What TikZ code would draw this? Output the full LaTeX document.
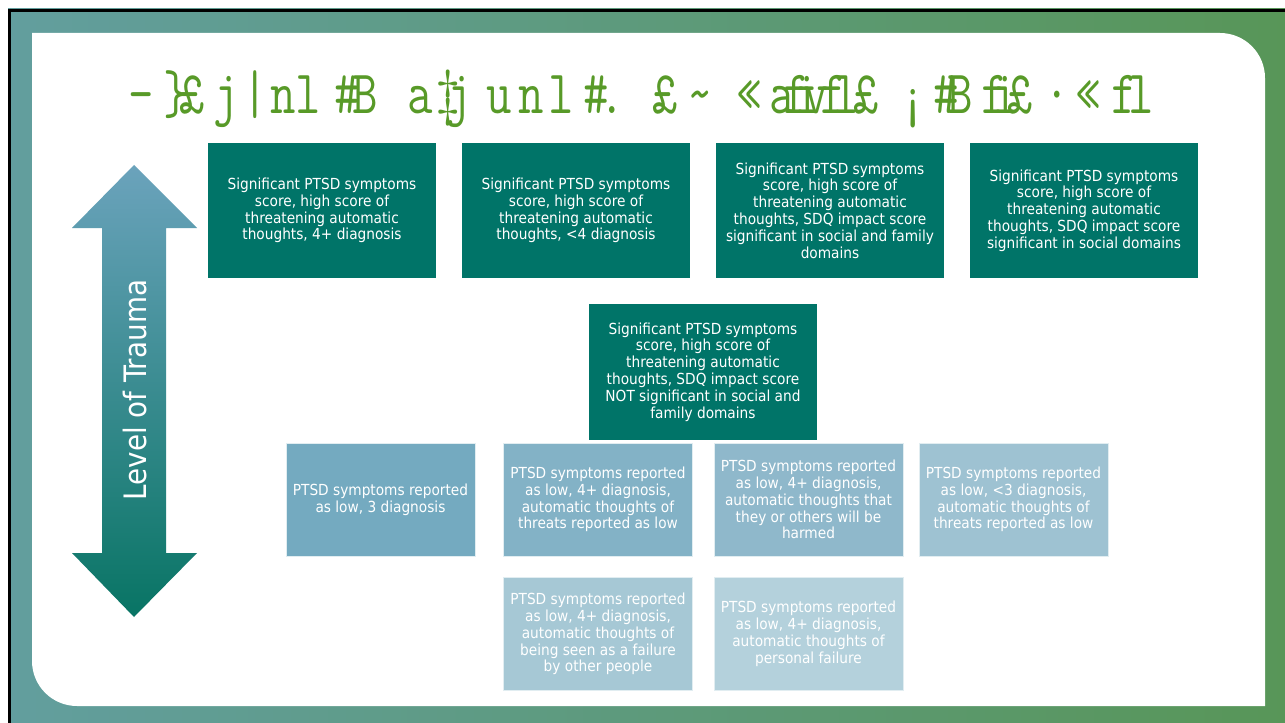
\documentclass[tikz,border=0pt]{standalone}
\usepackage{fontspec}
\newfontfamily\boxfont{DejaVu Sans Condensed}
\newfontfamily\titlefont{Latin Modern Mono}[FakeStretch=0.8]
\definecolor{frameteal}{RGB}{98,158,158}
\definecolor{framegreen}{RGB}{88,150,88}
\definecolor{titlegreen}{RGB}{88,154,40}
\definecolor{deepteal}{RGB}{0,116,104}
\definecolor{blueA}{RGB}{116,170,192}
\definecolor{blueB}{RGB}{131,178,198}
\definecolor{blueC}{RGB}{143,184,203}
\definecolor{blueD}{RGB}{158,194,210}
\definecolor{blueE}{RGB}{166,200,213}
\definecolor{blueF}{RGB}{180,209,220}
\definecolor{arrowtop}{RGB}{107,163,188}
\definecolor{arrowbottom}{RGB}{8,116,100}
\begin{document}
\begin{tikzpicture}[x=1bp,y=-1bp,
  glyph/.style={anchor=base,inner sep=0pt,text=titlegreen,
    font=\titlefont\fontsize{62}{62}\selectfont},
  card/.style={rectangle,inner sep=0pt,text=white,align=center,
    font=\boxfont\fontsize{15.3}{16.9}\selectfont},
  bigcard/.style={card,fill=deepteal,minimum width=228bp,minimum height=135bp},
  smallcard/.style={card,minimum width=189bp,minimum height=113bp,
    draw=white!60!blueF,line width=0.6bp}]
\useasboundingbox (0,0) rectangle (1285,723);
\fill[white] (0,0) rectangle (1285,723);

% slide frame with gradient border
\shade[left color=frameteal,right color=framegreen] (8,9) rectangle (1285,723);
\draw[black,line width=3bp] (8,10.5) -- (1285,10.5);
\draw[black,line width=3bp] (9.5,9) -- (9.5,723);
\fill[white] (32,33) -- (1220,33) arc[start angle=270,end angle=360,radius=45]
  -- (1265,706) -- (77,706) arc[start angle=90,end angle=180,radius=45] -- cycle;

% title line
\foreach \x/\g [count=\i] in {141/-,176/\},192/£,226/j,255/|,283/n,308/l,347/\#,365/B,
    420/a,448/‡,459/j,499/u,531/n,561/l,596/\#,612/.,665/£,700/\textasciitilde,
    749/«,782/a,796/f,807/i,816/v,833/f,846/l,866/£,913/¡,946/\#,960/B,
    994/f,1005/i,1020/£,1057/·,1088/«,1124/f,1141/l}
  \node[glyph] (t\i) at (\x,114) {\g};

% trauma scale arrow
\shade[top color=arrowtop,bottom color=arrowbottom]
  (134,165) -- (197,228) -- (166,228) -- (166,553) -- (197,553) -- (134,617)
  -- (72,553) -- (102,553) -- (102,228) -- (72,228) -- cycle;
\node[rotate=90,text=white,font=\boxfont\fontsize{31}{31}\selectfont] (scale) at (135,390) {Level of Trauma};

% high-level group
\node[bigcard] (h1) at (322,210.5) {Significant PTSD symptoms\\score, high score of\\threatening automatic\\thoughts, 4+ diagnosis};
\node[bigcard] (h2) at (576,210.5) {Significant PTSD symptoms\\score, high score of\\threatening automatic\\thoughts, <4 diagnosis};
\node[bigcard] (h3) at (830,210.5) {Significant PTSD symptoms\\score, high score of\\threatening automatic\\thoughts, SDQ impact score\\significant in social and family\\domains};
\node[bigcard] (h4) at (1084,210.5) {Significant PTSD symptoms\\score, high score of\\threatening automatic\\thoughts, SDQ impact score\\significant in social domains};
\node[bigcard] (h5) at (703,372) {Significant PTSD symptoms\\score, high score of\\threatening automatic\\thoughts, SDQ impact score\\NOT significant in social and\\family domains};

% low-level group
\node[smallcard,fill=blueA] (l1) at (380.5,499.5) {PTSD symptoms reported\\as low, 3 diagnosis};
\node[smallcard,fill=blueB] (l2) at (598,499.5) {PTSD symptoms reported\\as low, 4+ diagnosis,\\automatic thoughts of\\threats reported as low};
\node[smallcard,fill=blueC] (l3) at (808.5,499.5) {PTSD symptoms reported\\as low, 4+ diagnosis,\\automatic thoughts that\\they or others will be\\harmed};
\node[smallcard,fill=blueD] (l4) at (1013.5,499.5) {PTSD symptoms reported\\as low, <3 diagnosis,\\automatic thoughts of\\threats reported as low};
\node[smallcard,fill=blueE] (l5) at (598,634) {PTSD symptoms reported\\as low, 4+ diagnosis,\\automatic thoughts of\\being seen as a failure\\by other people};
\node[smallcard,fill=blueF] (l6) at (808.5,634) {PTSD symptoms reported\\as low, 4+ diagnosis,\\automatic thoughts of\\personal failure};
\end{tikzpicture}
\end{document}
